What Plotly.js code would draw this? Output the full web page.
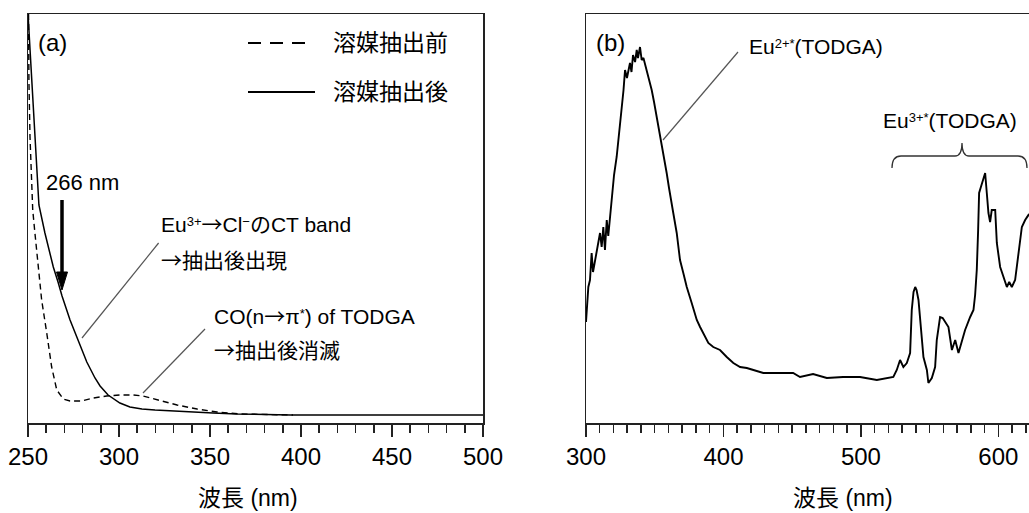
<!DOCTYPE html>
<html><head><meta charset="utf-8">
<script src="https://cdn.plot.ly/plotly-3.0.1.min.js"></script>
<style>html,body{margin:0;padding:0;background:#fff}#chart{width:1029px;height:513px}</style>
</head><body><div id="chart"></div>
<script>
// ---- Panel (a): absorption, arbitrary units ----
const aSolidWave = [250, 251.4, 252.7, 254.4, 256.0, 259.3, 261.5, 263.9, 266.5, 268.7, 273.1, 277.5, 282.3, 286.8, 289.6, 294.0, 300.5, 306.0, 312.6, 319.8, 337.9, 351.6, 364.8, 394.0, 500];
const aSolid     = [409, 363, 313, 263, 218, 190, 173, 156, 141, 127, 103, 82, 61, 45, 37, 28, 20, 16, 14, 13, 11, 10, 9, 8, 8];
const aDashWave  = [250.3, 250.5, 251.1, 252.6, 253.8, 255.7, 257.5, 260.3, 263.0, 265.8, 269.4, 273.1, 279.5, 285.9, 293.2, 300.5, 307.7, 313.2, 320.9, 331.9, 342.9, 353.8, 366.5, 395.6];
const aDash      = [409, 343, 286, 213, 190, 156, 123, 90, 56, 33, 24, 22, 22, 25, 27, 28, 28, 27, 23, 18, 14, 11, 9, 8];
const aTickVals  = [250, 300, 350, 400, 450, 500];
const aTickText  = ['250', '300', '350', '400', '450', '500'];

// ---- Panel (b): emission, arbitrary units ----
const bWave = [300.0, 300.5, 301.7, 302.9, 304.1, 305.1, 306.5, 307.8, 309.1, 310.2, 311.4, 312.6, 313.8, 315.1, 316.2, 317.5, 318.7, 320.4, 322.3, 324.0, 326.0, 327.3, 328.4, 329.8, 332.0, 333.1, 334.2, 335.7, 336.9, 337.8, 339.3, 340.5, 341.8, 344.2, 345.9, 347.8, 349.5, 351.5, 353.1, 355.1, 356.8, 358.7, 360.4, 362.4, 363.5, 366.0, 368.4, 370.8, 373.3, 376.9, 380.6, 383.0, 386.6, 389.0, 392.6, 397.5, 402.4, 407.2, 412.1, 417.0, 421.8, 429.0, 436.3, 441.2, 450.7, 455.7, 465.2, 475.2, 487.0, 499.4, 511.6, 523.6, 526.1, 528.5, 530.9, 533.4, 535.8, 537.0, 538.3, 539.5, 540.5, 541.9, 544.3, 545.5, 548.0, 549.1, 551.6, 554.0, 555.2, 557.6, 559.5, 561.3, 563.7, 566.2, 568.6, 571.0, 573.4, 575.8, 579.5, 581.9, 583.1, 584.3, 585.3, 586.0, 587.3, 588.2, 589.2, 590.4, 591.6, 592.8, 594.0, 595.2, 597.7, 598.9, 601.3, 603.7, 606.2, 607.9, 609.8, 612.2, 614.6, 617.1, 619.5, 621.9, 624.6];
const bIntensity = [101, 116, 136, 143, 170, 151, 161, 173, 183, 190, 176, 196, 173, 203, 187, 206, 225, 248, 266, 288, 310, 333, 353, 345, 360, 351, 368, 361, 373, 365, 376, 363, 365, 353, 343, 333, 321, 306, 295, 280, 265, 250, 235, 216, 210, 190, 163, 150, 136, 120, 103, 96, 86, 80, 76, 73, 66, 60, 56, 55, 53, 50, 50, 50, 50, 46, 49, 45, 46, 46, 43, 46, 53, 63, 56, 60, 70, 113, 131, 136, 133, 123, 90, 66, 53, 40, 45, 56, 83, 106, 105, 101, 96, 73, 83, 70, 81, 93, 106, 113, 128, 153, 193, 230, 236, 240, 246, 250, 230, 210, 201, 213, 213, 180, 156, 146, 136, 141, 136, 143, 170, 196, 203, 208, 211];
const bTickVals  = [300, 400, 500, 600];
const bTickText  = ['300', '400', '500', '600'];
const bMidTicks  = [350, 450, 550];

const W = 1029, H = 513;
const px = x => x / W;
const py = y => 1 - y / H;
const F = 'Liberation Sans, Arial, Noto Sans CJK JP, sans-serif';
const AX = '#222';
const ARR = '<span style="font-family:Noto Sans CJK JP">→</span>';
const sup = s => '<span style="font-size:13px;baseline-shift:6px">' + s + '</span>';

const traces = [
  {x: aDashWave, y: aDash, xaxis: 'x', yaxis: 'y', mode: 'lines', line: {color: '#000', width: 1.4, dash: '6px,4px'}, hoverinfo: 'skip'},
  {x: aSolidWave, y: aSolid, xaxis: 'x', yaxis: 'y', mode: 'lines', line: {color: '#000', width: 1.5}, hoverinfo: 'skip'},
  {x: bWave, y: bIntensity, xaxis: 'x2', yaxis: 'y2', mode: 'lines', line: {color: '#000', width: 1.9}, hoverinfo: 'skip'}
];

const baseX = {
  showline: true, linecolor: AX, linewidth: 1.5, ticks: 'outside', ticklen: 12, tickwidth: 1.5, tickcolor: AX,
  showgrid: false, zeroline: false, tickfont: {family: F, size: 24, color: '#000'}
};
const baseY = {showline: true, linecolor: AX, linewidth: 1.5, showgrid: false, zeroline: false, showticklabels: false, ticks: '', range: [0, 409]};

function ann(text, x, y, size, anchor) {
  return {text: text, x: px(x), y: py(y), xref: 'paper', yref: 'paper', showarrow: false,
          xanchor: anchor || 'left', yanchor: 'middle', font: {family: F, size: size, color: '#000'}};
}
function seg(x0, y0, x1, y1, color, width, dash) {
  return {type: 'line', xref: 'paper', yref: 'paper', x0: px(x0), y0: py(y0), x1: px(x1), y1: py(y1),
          line: {color: color, width: width, dash: dash || 'solid'}};
}
function pathP(pts, close) {
  return 'M ' + pts.map(p => px(p[0]).toFixed(5) + ',' + py(p[1]).toFixed(5)).join(' L ') + (close ? ' Z' : '');
}
function bracePath(x0, x1, xm, yl, ye, yt) {
  const P = (x, y) => px(x).toFixed(5) + ',' + py(y).toFixed(5);
  return 'M ' + P(x0, ye) + ' Q ' + P(x0, yl) + ' ' + P(x0 + 9, yl) + ' L ' + P(xm - 7, yl) +
         ' Q ' + P(xm, yl) + ' ' + P(xm, yt) + ' Q ' + P(xm, yl) + ' ' + P(xm + 7, yl) +
         ' L ' + P(x1 - 9, yl) + ' Q ' + P(x1, yl) + ' ' + P(x1, ye);
}

const layout = {
  width: W, height: H, margin: {l: 0, r: 0, t: 0, b: 0, autoexpand: false},
  paper_bgcolor: '#fff', plot_bgcolor: '#fff', showlegend: false,
  xaxis: Object.assign({}, baseX, {domain: [px(28), px(483)], range: [250, 500], mirror: true,
          tickvals: aTickVals, ticktext: aTickText,
          minor: {dtick: 10, tick0: 250, ticks: 'outside', ticklen: 8, tickwidth: 1.5, tickcolor: AX, showgrid: false}}),
  yaxis: Object.assign({}, baseY, {domain: [py(423), py(14)], mirror: true}),
  xaxis2: Object.assign({}, baseX, {domain: [px(586), 1], range: [300, 622.3], mirror: true, anchor: 'y2',
          tickvals: bTickVals, ticktext: bTickText,
          minor: {dtick: 10, tick0: 300, ticks: 'outside', ticklen: 8, tickwidth: 1.5, tickcolor: AX, showgrid: false}}),
  xaxis3: {overlaying: 'x2', anchor: 'y2', domain: [px(586), 1], range: [300, 622.3], side: 'bottom',
          showline: false, showgrid: false, zeroline: false, showticklabels: false,
          ticks: 'outside', ticklen: 12, tickwidth: 1.5, tickcolor: AX, tickvals: bMidTicks},
  yaxis2: Object.assign({}, baseY, {domain: [py(423), py(14)], anchor: 'x2', mirror: false}),
  annotations: [
    ann('(a)', 36, 43, 24),
    ann('溶媒抽出前', 331, 43, 23),
    ann('溶媒抽出後', 331, 92, 23),
    ann('266 nm', 44, 183, 22),
    ann('Eu' + sup('3+') + ARR + 'Cl' + sup('−') + 'のCT band', 159, 223, 21),
    ann(ARR + '抽出後出現', 159, 259, 21),
    ann('CO(n' + ARR + 'π' + sup('*') + ') of TODGA', 212, 315, 21),
    ann(ARR + '抽出後消滅', 212, 349, 21),
    ann('波長 (nm)', 248, 498, 23, 'center'),
    ann('(b)', 594, 43, 24),
    ann('Eu' + sup('2+*') + '(TODGA)', 747, 47, 21),
    ann('Eu' + sup('3+*') + '(TODGA)', 881, 120, 21),
    ann('波長 (nm)', 843, 498, 23, 'center')
  ],
  shapes: [
    seg(248, 43, 305, 43, '#000', 2, '13px,9px'),
    seg(248, 92, 315, 92, '#000', 2),
    seg(62, 200, 62, 275, '#000', 3.5),
    {type: 'path', xref: 'paper', yref: 'paper', path: pathP([[56.5, 272], [67.5, 272], [62, 290]], true),
     fillcolor: '#000', line: {color: '#000', width: 1}},
    seg(82, 338, 158.6, 243, '#555', 1.2),
    seg(143, 393, 205, 329, '#555', 1.2),
    seg(663, 140, 738, 52, '#555', 1.2),
    {type: 'path', xref: 'paper', yref: 'paper', path: bracePath(892, 1027, 962, 156, 168, 143),
     line: {color: '#333', width: 1.3}}
  ]
};

Plotly.newPlot('chart', traces, layout, {staticPlot: true, displayModeBar: false});
</script>
</body></html>
